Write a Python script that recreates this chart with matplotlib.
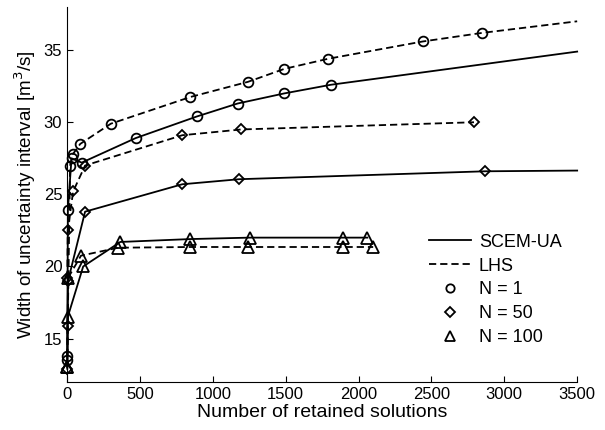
import numpy as np
import matplotlib
matplotlib.use("Agg")
import matplotlib.pyplot as plt
from matplotlib.lines import Line2D

plt.rcParams['font.family'] = ['Liberation Sans', 'DejaVu Sans']

# SCEM-UA (solid) and LHS (dashed) runs, N = 1 / 50 / 100
scem_n1_x = [1, 5, 30, 100, 470, 890, 1170, 1490, 1810, 3500]
scem_n1_y = [13.5, 23.9, 27.5, 27.2, 28.9, 30.4, 31.3, 32.0, 32.6, 34.9]
lhs_n1_x = [1, 20, 40, 90, 300, 845, 1240, 1490, 1790, 2440, 2850, 3500]
lhs_n1_y = [13.8, 27.0, 27.8, 28.5, 29.9, 31.75, 32.8, 33.7, 34.4, 35.6, 36.2, 37.0]

scem_n50_x = [1, 3, 6, 123, 790, 1180, 2870, 3500]
scem_n50_y = [12.9, 15.9, 19.0, 23.8, 25.7, 26.05, 26.6, 26.65]
lhs_n50_x = [1, 4, 41, 123, 790, 1194, 2792]
lhs_n50_y = [19.2, 22.5, 25.2, 27.0, 29.1, 29.5, 30.0]

scem_n100_x = [1, 4, 110, 365, 845, 1255, 1895, 2060]
scem_n100_y = [13.0, 16.5, 20.0, 21.7, 21.9, 22.0, 22.0, 22.0]
lhs_n100_x = [1, 6, 95, 350, 845, 1240, 1895, 2100]
lhs_n100_y = [13.0, 19.2, 20.75, 21.3, 21.35, 21.35, 21.35, 21.35]

x_ticks = [0, 500, 1000, 1500, 2000, 2500, 3000, 3500]
y_ticks = [15, 20, 25, 30, 35]

fig = plt.figure(figsize=(6.05, 4.3), dpi=100)
ax = fig.add_axes([0.111, 0.112, 0.843, 0.872])

dash = (0, (4, 2.2))
lw = 1.3
ms = 7
style = dict(color='black', lw=lw, mfc='none', mec='black', mew=1.3, ms=ms)

def skip_last(x):
    # last point marks where the line leaves the axes, no marker there
    return list(range(len(x) - 1)) if x[-1] >= 3500 else None

series = [
    (scem_n1_x, scem_n1_y, 'o', '-'),
    (lhs_n1_x, lhs_n1_y, 'o', dash),
    (scem_n50_x, scem_n50_y, 'D', '-'),
    (lhs_n50_x, lhs_n50_y, 'D', dash),
    (scem_n100_x, scem_n100_y, '^', '-'),
    (lhs_n100_x, lhs_n100_y, '^', dash),
]
for x, y, m, ls in series:
    kw = dict(style)
    if m == 'D':
        kw['ms'] = 5.5
    if m == '^':
        kw['ms'] = 8
    ax.plot(x, y, marker=m, linestyle=ls, markevery=skip_last(x), clip_on=False, **kw)

ax.set_xlim(0, 3500)
ax.set_ylim(12, 38)
ax.set_xticks(x_ticks)
ax.set_yticks(y_ticks)
ax.tick_params(direction='in', labelsize=12, length=4, width=0.8)
for s in ['top', 'right']:
    ax.spines[s].set_visible(False)
for s in ['left', 'bottom']:
    ax.spines[s].set_linewidth(0.8)

ax.set_xlabel('Number of retained solutions', fontsize=14, labelpad=2)
ax.set_ylabel('Width of uncertainty interval [m$^3$/s]', fontsize=13.6, labelpad=4)

handles = [
    Line2D([], [], color='black', lw=lw, ls='-'),
    Line2D([], [], color='black', lw=lw, ls=dash),
    Line2D([], [], color='black', ls='none', marker='o', mfc='none', mew=1.3, ms=6),
    Line2D([], [], color='black', ls='none', marker='D', mfc='none', mew=1.3, ms=5),
    Line2D([], [], color='black', ls='none', marker='^', mfc='none', mew=1.3, ms=7),
]
labels = ['SCEM-UA', 'LHS', 'N = 1', 'N = 50', 'N = 100']
ax.legend(handles, labels, loc='upper left', bbox_to_anchor=(0.71, 0.395),
          frameon=False, fontsize=13, handlelength=2.3, labelspacing=0.38,
          handletextpad=0.45, borderpad=0, borderaxespad=0)

fig.savefig('out.png', dpi=100)
